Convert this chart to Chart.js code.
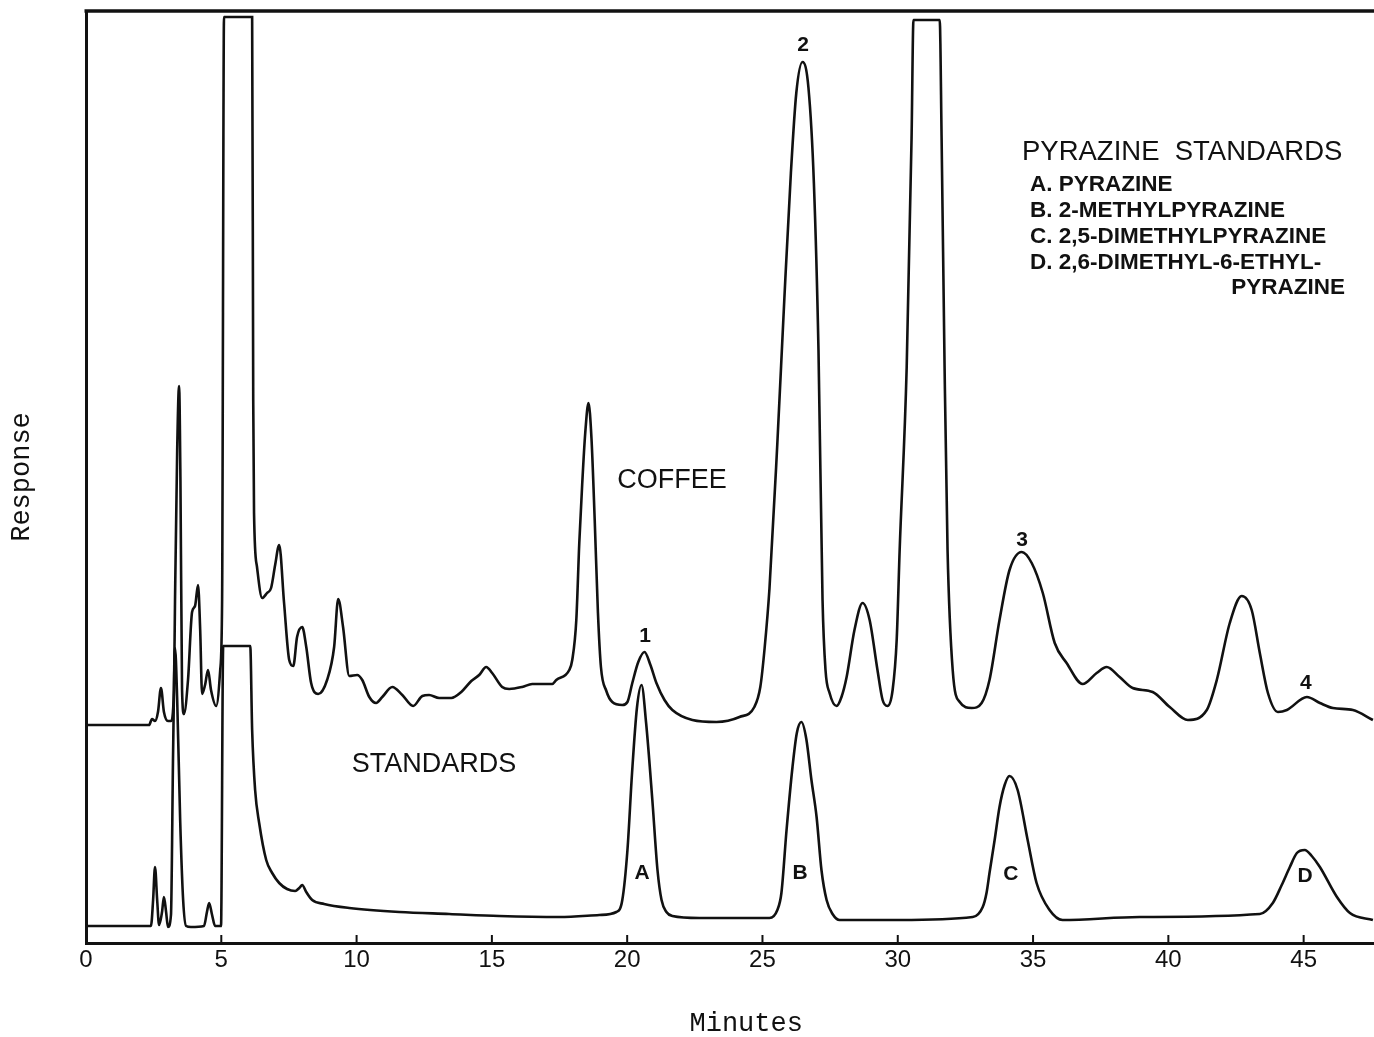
<!DOCTYPE html>
<html>
<head>
<meta charset="utf-8">
<title>Pyrazine standards vs coffee</title>
<script src="https://cdn.jsdelivr.net/npm/chart.js@4.4.1/dist/chart.umd.min.js"></script>
<style>
  html, body { margin: 0; padding: 0; background: #fff; }
</style>
</head>
<body>
<canvas id="chromatogram" width="1374" height="1037"></canvas>
<script>
// Coffee headspace trace (minutes, response)
const coffeeMinutes = [
  0, 2.33, 2.44, 2.55, 2.66, 2.77, 2.88, 3.03, 3.14, 3.25, 3.29, 3.37, 3.44, 3.49, 3.55, 3.62,
  3.77, 3.92, 4.03, 4.14, 4.22, 4.29, 4.40, 4.51, 4.62, 4.81, 4.96, 5.03, 5.10, 6.14, 6.18,
  6.21, 6.32, 6.51, 6.69, 6.84, 6.99, 7.14, 7.32, 7.51, 7.66, 7.80, 7.99, 8.14, 8.32, 8.58,
  8.91, 9.17, 9.32, 9.50, 9.73, 10.02, 10.21, 10.47, 10.72, 10.95, 11.32, 11.69, 12.09, 12.43,
  12.68, 13.05, 13.50, 13.87, 14.24, 14.53, 14.79, 15.01, 15.38, 15.64, 16.12, 16.49, 17.23,
  17.38, 17.86, 17.97, 18.12, 18.23, 18.34, 18.45, 18.57, 18.68, 18.80, 18.92, 19.03, 19.23,
  19.45, 19.82, 20.01, 20.19, 20.41, 20.64, 20.86, 21.08, 21.38, 21.67, 22.41, 23.30, 24.15,
  24.70, 24.92, 25.08, 25.26, 25.55, 25.81, 26.05, 26.25, 26.48, 26.70, 26.90, 27.07, 27.22,
  27.33, 27.48, 27.74, 27.92, 28.11, 28.40, 28.70, 28.96, 29.25, 29.44, 29.62, 29.81, 29.96,
  30.07, 30.33, 30.51, 30.58, 31.55, 31.62, 31.73, 31.84, 32.03, 32.29, 32.73, 33.10, 33.39,
  33.76, 34.13, 34.58, 34.95, 35.36, 35.80, 36.24, 36.83, 37.35, 37.72, 38.20, 38.68, 39.42,
  40.05, 40.72, 41.42, 41.79, 42.27, 42.71, 43.08, 43.38, 43.68, 44.05, 44.38, 45.12, 45.60,
  46.08, 46.82, 47.56
];
const coffeeResponse = [
  21.8, 21.8, 22.4, 22.2, 23.1, 25.5, 23.1, 22.2, 22.2, 25.3, 34.3, 49.3, 55.7, 46.3, 25.3, 22.9,
  26.3, 33.1, 33.7, 35.8, 31.3, 24.9, 25.8, 27.3, 25.3, 23.7, 27.3, 34.3, 92.6, 92.6, 54.3,
  43.0, 37.6, 34.5, 35.0, 35.5, 37.8, 39.8, 34.0, 28.3, 27.7, 30.6, 31.6, 29.6, 26.0, 24.9,
  26.3, 29.6, 34.4, 31.6, 26.7, 26.8, 26.3, 24.6, 24.0, 24.6, 25.6, 24.8, 23.7, 24.7,
  24.8, 24.5, 24.5, 25.1, 26.2, 26.8, 27.6, 27.0, 25.6, 25.4, 25.6, 25.9, 25.9,
  26.3, 27.3, 28.3, 32.3, 40.0, 46.0, 51.0, 54.0, 50.5, 42.3, 33.0, 27.6, 25.2,
  24.1, 23.8, 24.1, 26.0, 28.1, 29.1, 27.8, 26.0, 24.3, 23.3, 22.3, 22.1, 22.6,
  23.6, 25.6, 29.5, 35.5, 50.0, 64.5, 77.0, 85.0, 88.1, 85.5, 76.0, 59.3, 34.3,
  27.3, 25.0, 23.7, 24.6, 26.6, 31.3, 34.0, 32.3, 27.3, 24.3, 23.7, 25.3, 30.3,
  39.3, 57.6, 80.5, 92.3, 92.3, 80.5, 57.6, 39.3, 27.3, 24.1, 23.5, 24.0, 26.3,
  32.3, 37.3, 39.1, 38.0, 35.0, 30.0, 28.0, 25.9, 27.0, 27.6, 26.6, 25.5, 25.1,
  23.6, 22.3, 23.3, 26.3, 32.0, 34.7, 33.3, 29.0, 25.0, 23.1, 23.3, 24.6, 24.0,
  23.5, 23.3, 22.3
];

// Pyrazine standards trace (minutes, response)
const standardsMinutes = [
  0, 2.40, 2.48, 2.55, 2.63, 2.70, 2.81, 2.88, 2.96, 3.03, 3.14, 3.22, 3.29, 3.37, 3.48, 3.59,
  3.70, 3.88, 4.36, 4.47, 4.55, 4.66, 4.77, 4.99, 5.07, 6.07, 6.14, 6.25, 6.40, 6.66, 6.88,
  7.14, 7.43, 7.73, 7.88, 7.99, 8.14, 8.36, 8.80, 9.73, 11.58, 13.42, 15.27, 17.49, 18.97,
  19.60, 19.82, 20.01, 20.18, 20.36, 20.53, 20.70, 20.93, 21.12, 21.27, 21.45, 21.67, 22.67,
  25.26, 25.55, 25.70, 25.89, 26.11, 26.27, 26.44, 26.62, 26.81, 27.00, 27.18, 27.37, 27.59,
  27.85, 30.07, 32.77, 33.14, 33.28, 33.39, 33.58, 33.76, 33.95, 34.13, 34.43, 34.80, 35.13,
  35.61, 36.09, 38.94, 43.38, 43.86, 44.19, 44.49, 44.75, 45.04, 45.30, 45.60, 46.23, 46.71,
  47.56
];
const standardsResponse = [
  1.7, 1.7, 4.3, 7.6, 4.3, 1.8, 3.1, 4.6, 3.1, 1.6, 2.8, 19.3, 29.5, 24.3, 12.3, 4.3,
  1.7, 1.6, 1.7, 3.1, 4.0, 2.8, 1.7, 1.7, 29.7, 29.7, 21.3, 15.3, 12.0, 8.3, 7.0,
  6.0, 5.4, 5.2, 5.5, 5.8, 5.1, 4.3, 3.9, 3.5, 3.1, 2.9, 2.7, 2.6, 2.8,
  3.1, 4.3, 9.3, 17.0, 23.5, 25.8, 22.0, 14.3, 7.3, 4.3, 3.1, 2.7, 2.5,
  2.5, 3.3, 5.0, 11.3, 17.6, 21.0, 22.1, 20.4, 16.3, 12.6, 7.3, 4.3, 2.9,
  2.3, 2.3, 2.6, 3.6, 5.0, 7.0, 10.3, 13.6, 15.8, 16.7, 15.3, 10.3, 6.0,
  3.3, 2.3, 2.6, 2.9, 4.0, 5.8, 7.6, 9.0, 9.3, 8.7, 7.6, 4.6, 3.0,
  2.3
];

// Axis ticks (minutes)
const minuteTicks = [0, 5, 10, 15, 20, 25, 30, 35, 40, 45];

// Peak labels and trace names written on the chart
const peakLabels = [
  { text: '1', x: 20.66, y: 30.7 },
  { text: '2', x: 26.50, y: 89.8 },
  { text: '3', x: 34.59, y: 40.3 },
  { text: '4', x: 45.08, y: 26.0 },
  { text: 'A', x: 20.55, y: 7.0 },
  { text: 'B', x: 26.39, y: 7.0 },
  { text: 'C', x: 34.18, y: 6.9 },
  { text: 'D', x: 45.05, y: 6.7 }
];
const traceNames = [
  { text: 'COFFEE', x: 21.66, y: 46.2 },
  { text: 'STANDARDS', x: 12.86, y: 17.8 }
];
const keyTitle = 'PYRAZINE  STANDARDS';
const keyLines = [
  'A. PYRAZINE',
  'B. 2-METHYLPYRAZINE',
  'C. 2,5-DIMETHYLPYRAZINE',
  'D. 2,6-DIMETHYL-6-ETHYL-'
];
const keyTail = 'PYRAZINE';

const toPoints = (xs, ys) => xs.map((v, i) => ({ x: v, y: ys[i] }));

const INK = '#111';

// top frame line, inward tick marks and the hand-lettered labels
const recorderMarks = {
  id: 'recorderMarks',
  afterDraw(chart) {
    const { ctx, chartArea, scales: { x, y } } = chart;
    ctx.save();
    ctx.strokeStyle = INK;
    ctx.fillStyle = INK;

    ctx.lineWidth = 3.5;
    ctx.beginPath();
    ctx.moveTo(chartArea.left - 1.5, chartArea.top);
    ctx.lineTo(chartArea.right, chartArea.top);
    ctx.stroke();

    ctx.lineWidth = 2;
    x.ticks.forEach(t => {
      const px = x.getPixelForValue(t.value);
      ctx.beginPath();
      ctx.moveTo(px, chartArea.bottom);
      ctx.lineTo(px, chartArea.bottom - 8);
      ctx.stroke();
    });

    ctx.textAlign = 'center';
    ctx.textBaseline = 'middle';
    ctx.font = 'bold 21px "Liberation Sans"';
    peakLabels.forEach(l => ctx.fillText(l.text, x.getPixelForValue(l.x), y.getPixelForValue(l.y)));

    ctx.font = '27px "Liberation Sans"';
    traceNames.forEach(l => ctx.fillText(l.text, x.getPixelForValue(l.x), y.getPixelForValue(l.y)));

    // compound key
    ctx.textAlign = 'left';
    ctx.font = '27.5px "Liberation Sans"';
    ctx.fillText(keyTitle, x.getPixelForValue(34.59), y.getPixelForValue(79.1));
    ctx.font = 'bold 22.5px "Liberation Sans"';
    const kx = x.getPixelForValue(34.89);
    const rows = [75.8, 73.2, 70.6, 68.0];
    keyLines.forEach((line, i) => ctx.fillText(line, kx, y.getPixelForValue(rows[i])));
    ctx.textAlign = 'right';
    ctx.fillText(keyTail, x.getPixelForValue(46.53), y.getPixelForValue(65.5));
    ctx.restore();
  }
};

const traceStyle = {
  showLine: true,
  borderColor: INK,
  borderWidth: 2.6,
  pointRadius: 0,
  fill: false,
  cubicInterpolationMode: 'monotone'
};

new Chart(document.getElementById('chromatogram').getContext('2d'), {
  type: 'scatter',
  data: {
    datasets: [
      { ...traceStyle, label: 'Coffee', data: toPoints(coffeeMinutes, coffeeResponse) },
      { ...traceStyle, label: 'Standards', data: toPoints(standardsMinutes, standardsResponse) }
    ]
  },
  options: {
    responsive: false,
    animation: false,
    layout: { padding: { top: 11, right: 0, bottom: 0, left: 0 } },
    plugins: {
      legend: { display: false },
      tooltip: { enabled: false }
    },
    scales: {
      x: {
        type: 'linear',
        min: 0,
        max: 47.6,
        afterBuildTicks: scale => {
          scale.ticks = minuteTicks.map(v => ({ value: v }));
        },
        afterFit: scale => { scale.height = 94; },
        grid: { display: false, drawTicks: false },
        border: { display: true, color: INK, width: 3 },
        ticks: {
          color: INK,
          padding: 3,
          maxRotation: 0,
          font: { family: 'Liberation Sans', size: 24 }
        },
        title: {
          display: true,
          // two leading spaces set the title slightly right of the axis centre
          text: '  Minutes',
          color: INK,
          padding: { top: 0, bottom: 0 },
          font: { family: 'Liberation Mono', size: 27, lineHeight: 1 }
        }
      },
      y: {
        min: 0,
        max: 93.2,
        afterFit: scale => { scale.width = 86; },
        grid: { display: false, drawTicks: false },
        border: { display: true, color: INK, width: 3 },
        ticks: { display: false },
        title: {
          display: true,
          text: 'Response',
          color: INK,
          padding: { top: 6, bottom: 0 },
          font: { family: 'Liberation Mono', size: 27, lineHeight: 1.2 }
        }
      }
    }
  },
  plugins: [recorderMarks]
});
</script>
</body>
</html>
